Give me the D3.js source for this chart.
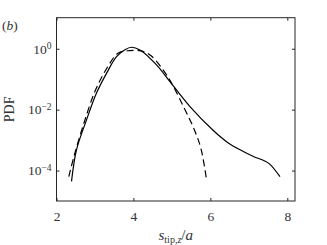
<!DOCTYPE html>
<html>
<head>
<meta charset="utf-8">
<script src="https://cdn.jsdelivr.net/npm/d3@7"></script>
<style>
  body { margin: 0; background: #fff; }
  text { font-family: "Liberation Serif", "DejaVu Serif", serif; fill: #333; }
</style>
</head>
<body>
<svg id="chart" width="327" height="245"></svg>
<script>
// solid curve
var solidX = [2.39, 2.52, 2.78, 3.04, 3.30, 3.56, 3.78, 3.95, 4.17, 4.60, 4.95, 5.47, 6.07, 6.42, 6.77, 7.12, 7.40, 7.55, 7.81];
var solidPdf = [4.4e-5, 4.8e-4, 4.6e-3, 0.035, 0.155, 0.55, 0.93, 1.12, 0.91, 0.295, 0.083, 0.0126, 2.1e-3, 8.9e-4, 4.8e-4, 2.9e-4, 2.1e-4, 1.6e-4, 6.3e-5];
// dashed curve
var dashX = [2.32, 2.45, 2.70, 3.00, 3.30, 3.60, 3.90, 4.20, 4.45, 4.75, 5.00, 5.30, 5.55, 5.75, 5.90];
var dashPdf = [6.3e-5, 2.8e-4, 3.2e-3, 0.04, 0.22, 0.71, 0.87, 0.85, 0.6, 0.22, 0.071, 0.0126, 2.75e-3, 5.6e-4, 5.0e-5];

var xTicks = [2, 4, 6, 8];
var yTicks = [1e0, 1e-2, 1e-4];
var yTickExp = ["0", "\u22122", "\u22124"];

var margin = {top: 17.7, right: 32, bottom: 44, left: 56.5},
    width = 327 - margin.left - margin.right,
    height = 245 - margin.top - margin.bottom;

var svg = d3.select("#chart");
var g = svg.append("g")
    .attr("transform", "translate(" + margin.left + "," + margin.top + ")");

var x = d3.scaleLinear().domain([2, 8.2]).range([0, width]);
var y = d3.scaleLog().domain([1e-5, Math.pow(10, 1.02)]).range([height, 0]);

var tickLen = 3;

// bottom & top axes
g.append("g")
    .attr("transform", "translate(0," + height + ")")
    .call(d3.axisBottom(x).tickValues(xTicks).tickSizeInner(-tickLen).tickSizeOuter(0).tickPadding(10).tickFormat(d3.format("d")))
    .call(function(a) {
      a.select(".domain").remove();
      a.selectAll("line").attr("stroke", "#262626");
      a.selectAll("text").attr("font-size", 13.5).attr("fill", "#333");
    });
g.append("g")
    .call(d3.axisTop(x).tickValues(xTicks).tickSizeInner(-tickLen).tickSizeOuter(0).tickFormat(""))
    .call(function(a) {
      a.select(".domain").remove();
      a.selectAll("line").attr("stroke", "#262626");
    });

// left & right axes
var left = g.append("g")
    .call(d3.axisLeft(y).tickValues(yTicks).tickSizeInner(-tickLen).tickSizeOuter(0).tickFormat(""));
left.select(".domain").remove();
left.selectAll("line").attr("stroke", "#262626");
left.selectAll(".tick").append("text")
    .attr("x", -5)
    .attr("dy", "0.32em")
    .attr("text-anchor", "end")
    .attr("font-size", 13.5)
    .each(function(d, i) {
      var t = d3.select(this);
      t.append("tspan").text("10");
      t.append("tspan").attr("dy", "-0.45em").attr("font-size", 9.5).text(yTickExp[i]);
    });

g.append("g")
    .attr("transform", "translate(" + width + ",0)")
    .call(d3.axisRight(y).tickValues(yTicks).tickSizeInner(-tickLen).tickSizeOuter(0).tickFormat(""))
    .call(function(a) {
      a.select(".domain").remove();
      a.selectAll("line").attr("stroke", "#262626");
    });

// box
g.append("rect")
    .attr("width", width)
    .attr("height", height)
    .attr("fill", "none")
    .attr("stroke", "#262626")
    .attr("stroke-width", 1);

var line = d3.line()
    .x(function(d) { return x(d[0]); })
    .y(function(d) { return y(d[1]); })
    .curve(d3.curveCatmullRom);

g.append("path")
    .datum(d3.zip(solidX, solidPdf))
    .attr("d", line)
    .attr("fill", "none")
    .attr("stroke", "#000")
    .attr("stroke-width", 1.2);

g.append("path")
    .datum(d3.zip(dashX, dashPdf))
    .attr("d", line)
    .attr("fill", "none")
    .attr("stroke", "#000")
    .attr("stroke-width", 1.2)
    .attr("stroke-dasharray", "7,4");

// axis labels
svg.append("text")
    .attr("transform", "translate(14," + (margin.top + height / 2) + ") rotate(-90)")
    .attr("text-anchor", "middle")
    .attr("font-size", 14)
    .text("PDF");

var xl = svg.append("text")
    .attr("x", margin.left + width / 2)
    .attr("y", 240)
    .attr("text-anchor", "middle")
    .attr("font-size", 15);
xl.append("tspan").attr("font-style", "italic").text("s");
xl.append("tspan").attr("font-size", 10).attr("dy", 3).text("tip,");
xl.append("tspan").attr("font-size", 10).attr("font-style", "italic").text("z");
xl.append("tspan").attr("dy", -3).text("/");
xl.append("tspan").attr("font-style", "italic").text("a");

var lb = svg.append("text")
    .attr("x", 2)
    .attr("y", 30)
    .attr("font-size", 13.5);
lb.append("tspan").text("(");
lb.append("tspan").attr("font-style", "italic").text("b");
lb.append("tspan").text(")");
</script>
</body>
</html>
